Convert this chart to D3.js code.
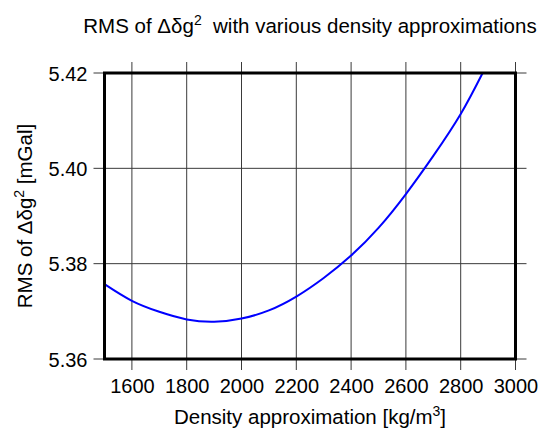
<!DOCTYPE html>
<html>
<head>
<meta charset="utf-8">
<script src="https://cdn.jsdelivr.net/npm/d3@7"></script>
<style>
  html, body { margin: 0; padding: 0; background: #fff; }
  svg { display: block; font-family: "Liberation Sans", Arial, Helvetica, sans-serif; }
</style>
</head>
<body>
<svg id="chart" width="540" height="430"></svg>
<script>
// Density approximation (kg/m^3) and resulting RMS (mGal)
const density = [1500, 1600, 1700, 1800, 1900, 2000, 2100, 2200, 2300, 2400, 2500, 2600, 2700, 2800, 2880];
const rms = [5.3757, 5.3722, 5.3699, 5.3683, 5.3678, 5.3685, 5.3702, 5.3731, 5.3770, 5.3817, 5.3875, 5.3946, 5.4026, 5.4114, 5.4200];

const xTicks = [1600, 1800, 2000, 2200, 2400, 2600, 2800, 3000];
const yTicks = [5.36, 5.38, 5.40, 5.42];

const svg = d3.select("#chart");
const m = { left: 104.5, right: 515.5, top: 73, bottom: 359 };
const tickLen = 11;

const x = d3.scaleLinear().domain([1500, 3000]).range([m.left, m.right]);
const y = d3.scaleLinear().domain([5.36, 5.42]).range([m.bottom, m.top]);

// Grid lines, extending past the frame as ticks on every side
const g = svg.append("g");
g.selectAll(".vg").data(xTicks).join("line")
  .attr("x1", d => x(d)).attr("x2", d => x(d))
  .attr("y1", m.top - tickLen).attr("y2", m.bottom + tickLen)
  .attr("stroke", "#3a3a3a").attr("stroke-width", 1);
g.selectAll(".hg").data(yTicks).join("line")
  .attr("x1", m.left - tickLen).attr("x2", m.right + tickLen)
  .attr("y1", d => y(d)).attr("y2", d => y(d))
  .attr("stroke", "#3a3a3a").attr("stroke-width", 1);

// Curve
const line = d3.line()
  .x((d, i) => x(density[i]))
  .y((d, i) => y(rms[i]))
  .curve(d3.curveNatural);
svg.append("path")
  .datum(rms)
  .attr("d", line)
  .attr("fill", "none")
  .attr("stroke", "#0000ff")
  .attr("stroke-width", 2);

// Frame
svg.append("rect")
  .attr("x", m.left).attr("y", m.top)
  .attr("width", m.right - m.left).attr("height", m.bottom - m.top)
  .attr("fill", "none").attr("stroke", "#000").attr("stroke-width", 3);

// Axes (labels only; tick lines drawn with the grid)
const xAxis = d3.axisBottom(x).tickValues(xTicks).tickFormat(d3.format("d")).tickSize(0).tickPadding(0);
const xa = svg.append("g").attr("transform", `translate(0,${m.bottom})`).call(xAxis);
xa.select(".domain").remove();
xa.selectAll("text").attr("font-size", 20).attr("fill", "#000")
  .attr("dy", null).attr("y", 34);

const yAxis = d3.axisLeft(y).tickValues(yTicks).tickFormat(d3.format(".2f")).tickSize(0).tickPadding(0);
const ya = svg.append("g").attr("transform", `translate(${m.left},0)`).call(yAxis);
ya.select(".domain").remove();
ya.selectAll("text").attr("font-size", 20).attr("fill", "#000")
  .attr("x", -17).attr("dy", "0.36em");

// Title
const title = svg.append("text")
  .attr("x", 310).attr("y", 33)
  .attr("text-anchor", "middle")
  .attr("font-size", 20.5)
  .attr("fill", "#000")
  .style("white-space", "pre");
title.append("tspan").text("RMS of \u0394\u03b4g");
title.append("tspan").attr("font-size", 14).attr("dy", -8).text("2");
title.append("tspan").attr("dy", 8).text("  with various density approximations");

// X axis label
const xl = svg.append("text")
  .attr("x", 310).attr("y", 424)
  .attr("text-anchor", "middle")
  .attr("font-size", 20.5)
  .attr("fill", "#000");
xl.append("tspan").text("Density approximation [kg/m");
xl.append("tspan").attr("font-size", 14).attr("dy", -8).text("3");
xl.append("tspan").attr("dy", 8).text("]");

// Y axis label
const yl = svg.append("text")
  .attr("transform", `translate(32,${(m.top + m.bottom) / 2}) rotate(-90)`)
  .attr("text-anchor", "middle")
  .attr("font-size", 20.5)
  .attr("fill", "#000")
  .style("white-space", "pre");
yl.append("tspan").text("RMS of \u0394\u03b4g");
yl.append("tspan").attr("font-size", 14).attr("dy", -8).text("2");
yl.append("tspan").attr("dy", 8).text(" [mGal]");
</script>
</body>
</html>
